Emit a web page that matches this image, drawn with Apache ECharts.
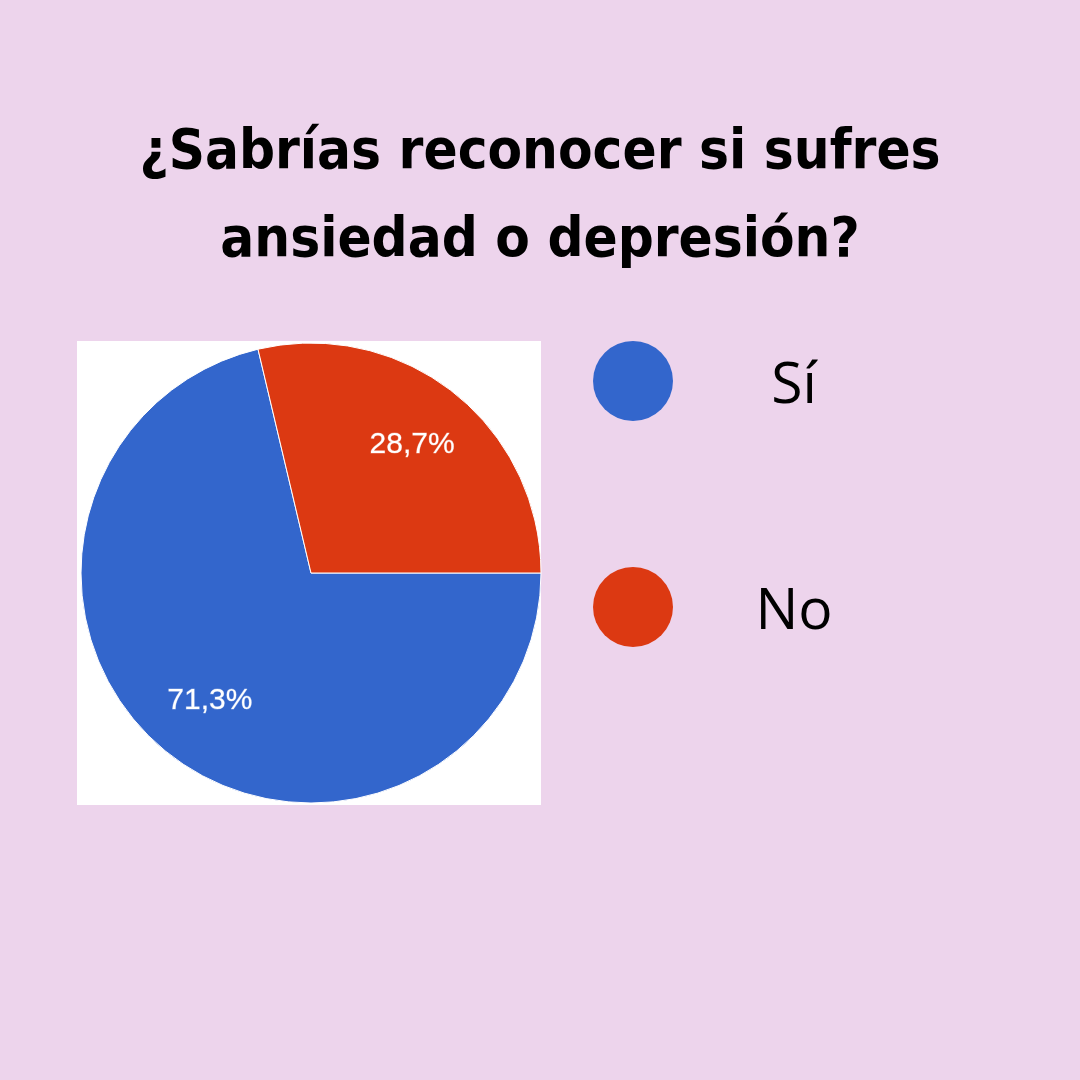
<!DOCTYPE html>
<html>
<head>
<meta charset="utf-8">
<script src="https://cdn.jsdelivr.net/npm/echarts@6/dist/echarts.min.js"></script>
<style>
html,body{margin:0;padding:0;background:#EDD4EC;}
#box{position:absolute;left:77px;top:341px;width:464px;height:464px;background:#fff;}
#c{position:absolute;left:0;top:0;width:1080px;height:1080px;}
</style>
</head>
<body>
<div id="box"></div>
<div id="c"></div>
<script>
const titleText = '¿Sabrías reconocer si sufres\nansiedad o depresión?';
const categories = ['Sí', 'No'];
const values = [71.3, 28.7];
const colors = ['#3366CC', '#DC3912'];

const pieData = categories.map((n, i) => ({ name: n, value: values[i], itemStyle: { color: colors[i] } }));
const fmt = p => p.value.toFixed(1).replace('.', ',') + '%';

const chart = echarts.init(document.getElementById('c'), null, { renderer: 'canvas' });
chart.setOption({
  backgroundColor: 'transparent',
  animation: false,
  title: {
    text: titleText,
    left: 'center',
    top: 104,
    textStyle: {
      fontFamily: 'DejaVu Sans Condensed',
      fontWeight: 'bold',
      fontSize: 56,
      lineHeight: 88,
      color: '#000'
    }
  },
  legend: {
    orient: 'vertical',
    left: 593,
    top: 341,
    padding: 0,
    itemWidth: 80,
    itemHeight: 80,
    itemGap: 146,
    icon: 'circle',
    itemStyle: { borderWidth: 0 },
    data: categories,
    formatter: '{a|{name}}',
    textStyle: {
      rich: {
        a: { width: 232, align: 'center', fontFamily: 'Open Sans', fontSize: 57, color: '#000', padding: [12, 0, 0, 0] }
      }
    }
  },
  series: [
    {
      type: 'pie',
      center: [311, 573],
      radius: [0, 230],
      startAngle: 0,
      clockwise: true,
      label: { show: false },
      labelLine: { show: false },
      itemStyle: { borderColor: '#fff', borderWidth: 1 },
      data: pieData,
      silent: true
    },
    {
      type: 'pie',
      center: [311, 573],
      radius: [90, 230],
      startAngle: 0,
      clockwise: true,
      legendHoverLink: false,
      itemStyle: { color: 'transparent', borderWidth: 0 },
      label: {
        show: true,
        position: 'inside',
        formatter: fmt,
        color: '#fff',
        fontFamily: 'Liberation Sans',
        fontSize: 30,
        fontWeight: 'normal',
        textBorderColor: 'rgba(255,255,255,0.35)',
        textBorderWidth: 0.8,
        padding: [6, 0, 0, 0]
      },
      labelLine: { show: false },
      data: categories.map((n, i) => ({ name: n + ' ', value: values[i] })),
      silent: true
    }
  ]
});
</script>
</body>
</html>
